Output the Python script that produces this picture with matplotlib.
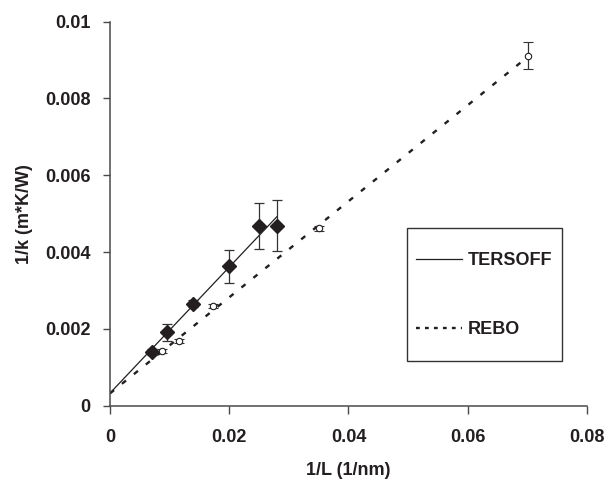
import numpy as np
import matplotlib
matplotlib.use("Agg")
import matplotlib.pyplot as plt
from matplotlib.legend_handler import HandlerLine2D

# Inverse length (1/nm) and inverse thermal conductivity (m*K/W)
tersoff_x = [0.0070, 0.0095, 0.0140, 0.0200, 0.0250, 0.0280]
tersoff_y = [0.00139, 0.00191, 0.00266, 0.00363, 0.00467, 0.00469]
tersoff_err = [0.00008, 0.00022, 0.00010, 0.00043, 0.00060, 0.00067]

rebo_x = [0.0087, 0.0116, 0.0173, 0.0350, 0.0701]
rebo_y = [0.00143, 0.00169, 0.00260, 0.00462, 0.00911]
rebo_err = [0.00005, 0.00005, 0.00005, 0.00006, 0.00035]

x_ticks = [0, 0.02, 0.04, 0.06, 0.08]
x_tick_labels = ["0", "0.02", "0.04", "0.06", "0.08"]
y_ticks = [0, 0.002, 0.004, 0.006, 0.008, 0.01]
y_tick_labels = ["0", "0.002", "0.004", "0.006", "0.008", "0.01"]

plt.rcParams["font.family"] = ["Liberation Sans", "DejaVu Sans"]
plt.rcParams["font.weight"] = "bold"
ink = "#231f20"
axis_grey = "#4a4a4a"


class CenteredLineHandler(HandlerLine2D):
    """Legend line sample lowered to sit level with the label text."""

    def __init__(self, drop=5.5, **kw):
        super().__init__(**kw)
        self.drop = drop

    def create_artists(self, *args, **kw):
        arts = super().create_artists(*args, **kw)
        for a in arts:
            a.set_ydata(np.asarray(a.get_ydata()) - self.drop)
        return arts


fig = plt.figure(figsize=(6.07, 4.82), dpi=100)
ax = fig.add_axes([0.1812, 0.1583, 0.967 - 0.1812, 0.955 - 0.1583])

# Linear trend lines through each data set, extended back to 1/L = 0
for xs, ys, style, lw in [(tersoff_x, tersoff_y, "-", 0.9),
                          (rebo_x, rebo_y, "--", 1.7)]:
    slope, icpt = np.polyfit(xs, ys, 1)
    xl = np.array([0.0, max(xs)])
    line, = ax.plot(xl, slope * xl + icpt, style, color=ink, lw=lw, zorder=2)
    if style == "--":
        line.set_dashes((2.2, 4.3))

ax.errorbar(tersoff_x, tersoff_y, yerr=tersoff_err, fmt="D", ms=7.6,
            mfc=ink, mec=ink, ecolor="#333333", elinewidth=0.9,
            capsize=3.3, capthick=0.9, zorder=3)
ax.errorbar(rebo_x, rebo_y, yerr=rebo_err, fmt="o", ms=4.6,
            mfc="white", mec=ink, mew=0.8, ecolor="#333333", elinewidth=0.9,
            capsize=3.3, capthick=0.9, zorder=3)

# Legend entries (line samples only)
h1, = ax.plot([], [], "-", color=ink, lw=0.9)
h2, = ax.plot([], [], "--", color=ink, lw=1.7)
h2.set_dashes((1.6, 2.2))
leg = ax.legend([h1, h2], ["TERSOFF", "REBO"], loc="upper left",
                bbox_to_anchor=(0.622, 0.4628), borderaxespad=0,
                fontsize=13, frameon=True, fancybox=False, framealpha=1,
                borderpad=0.5, handleheight=3.6, labelspacing=1.22,
                handlelength=2.55, handletextpad=0.35,
                handler_map={h1: CenteredLineHandler(),
                             h2: CenteredLineHandler()})
leg.get_frame().set_edgecolor("#333333")
leg.get_frame().set_linewidth(1.0)
for t in leg.get_texts():
    t.set_color(ink)
    t.set_fontweight("bold")

ax.set_xlim(0, 0.08)
ax.set_ylim(0, 0.01)
ax.set_xticks(x_ticks)
ax.set_xticklabels(x_tick_labels)
ax.set_yticks(y_ticks)
ax.set_yticklabels(y_tick_labels)

for side in ("top", "right"):
    ax.spines[side].set_visible(False)
for side in ("left", "bottom"):
    ax.spines[side].set_color(axis_grey)
    ax.spines[side].set_linewidth(1.1)

ax.tick_params(axis="x", direction="out", length=6, width=1.0,
               color=axis_grey, labelsize=13, labelcolor=ink, pad=11)
ax.tick_params(axis="y", direction="out", length=5, width=1.0,
               color=axis_grey, labelsize=13, labelcolor=ink, pad=9)
for lab in ax.get_xticklabels() + ax.get_yticklabels():
    lab.set_fontweight("bold")

ax.set_xlabel("1/L (1/nm)", fontsize=13, fontweight="bold", color=ink,
              labelpad=11)
ax.set_ylabel("1/k (m*K/W)", fontsize=13, fontweight="bold", color=ink,
              labelpad=9)

fig.savefig("out.png", dpi=100)
